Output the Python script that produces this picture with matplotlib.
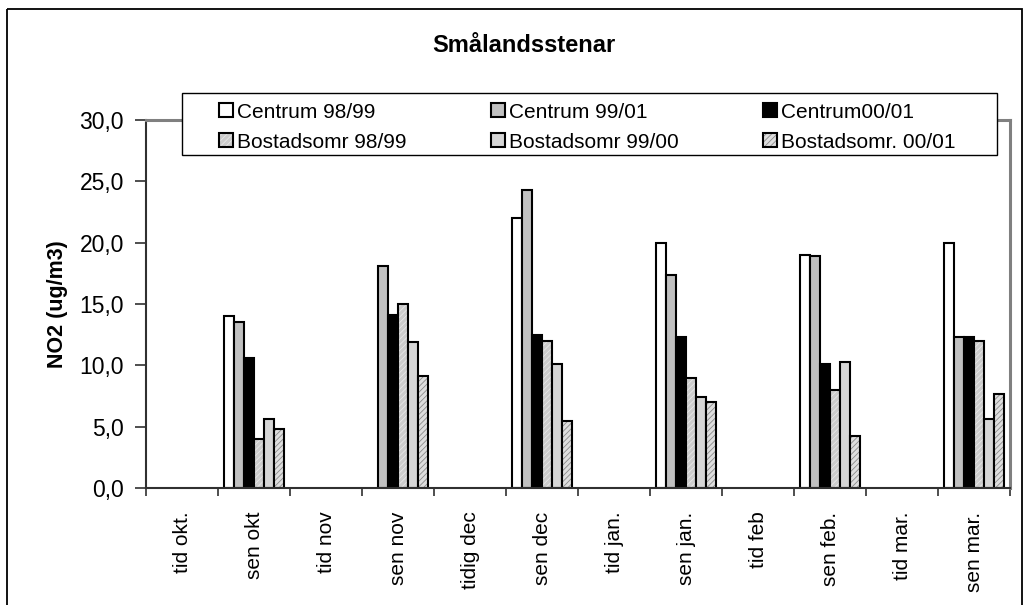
import numpy as np
import matplotlib as mpl
import matplotlib.pyplot as plt
from matplotlib.patches import Rectangle
from matplotlib.ticker import FuncFormatter, FixedLocator

mpl.rcParams.update({
    "font.family": ["Liberation Sans", "DejaVu Sans"],
    "hatch.linewidth": 0.6,
})

# -----------------------
# data
# -----------------------
categories = ["tid okt.", "sen okt", "tid nov", "sen nov", "tidig dec", "sen dec",
              "tid jan.", "sen jan.", "tid feb", "sen feb.", "tid mar.", "sen mar."]

nan = np.nan
centrum_9899 = [nan, 14.0, nan, nan, nan, 22.0, nan, 20.0, nan, 19.0, nan, 20.0]
centrum_9901 = [nan, 13.5, nan, 18.1, nan, 24.3, nan, 17.4, nan, 18.9, nan, 12.3]
centrum_0001 = [nan, 10.6, nan, 14.1, nan, 12.5, nan, 12.3, nan, 10.1, nan, 12.3]
bostad_9899 = [nan, 4.0, nan, 15.0, nan, 12.0, nan, 9.0, nan, 8.0, nan, 12.0]
bostad_9900 = [nan, 5.6, nan, 11.9, nan, 10.1, nan, 7.4, nan, 10.3, nan, 5.6]
bostad_0001 = [nan, 4.8, nan, 9.1, nan, 5.5, nan, 7.0, nan, 4.2, nan, 7.7]

series_names = ["Centrum 98/99", "Centrum 99/01", "Centrum00/01",
                "Bostadsomr 98/99", "Bostadsomr 99/00", "Bostadsomr. 00/01"]
series_values = [centrum_9899, centrum_9901, centrum_0001,
                 bostad_9899, bostad_9900, bostad_0001]

# fill, hatch, hatch colour
styles = [
    ("white", None, None),
    ("#c0c0c0", None, None),
    ("black", None, None),
    ("#cccccc", "//////", "#e8e8e8"),
    ("#d6d6d6", None, None),
    ("#dedede", "//////", "#8a8a8a"),
]

W, H = 1030, 605
fig = plt.figure(figsize=(W / 100, H / 100), dpi=100)
ax = fig.add_axes([146 / W, 1 - 488 / H, (1010 - 146) / W, (488 - 120) / H])


def draw_box(target, x, y, w, h, style, **kw):
    face, hatch, hcol = style
    if hatch:
        target.add_patch(Rectangle((x, y), w, h, facecolor=face, hatch=hatch,
                                   edgecolor=hcol, linewidth=0, **kw))
        target.add_patch(Rectangle((x, y), w, h, facecolor="none",
                                   edgecolor="black", linewidth=1.5, **kw))
    else:
        target.add_patch(Rectangle((x, y), w, h, facecolor=face,
                                   edgecolor="black", linewidth=1.5, **kw))


# -----------------------
# bars
# -----------------------
n = len(series_values)
bw = 0.137
x = np.arange(len(categories))
for i, (vals, st) in enumerate(zip(series_values, styles)):
    off = (i - (n - 1) / 2) * bw
    for xi, v in zip(x, vals):
        if np.isnan(v):
            continue
        draw_box(ax, xi + off - bw / 2, 0, bw, v, st)

ax.set_xlim(-0.5, len(categories) - 0.5)
ax.set_ylim(0, 30)

# y axis
ax.set_yticks(np.arange(0, 30.1, 5))
ax.yaxis.set_major_formatter(FuncFormatter(lambda v, p: f"{v:.1f}".replace(".", ",")))
ax.tick_params(axis="y", direction="out", length=8, width=1.2, labelsize=16.5, pad=8,
               color="#303030")
ax.set_ylabel("NO2 (ug/m3)", fontsize=15.5, fontweight="bold")
ax.yaxis.set_label_coords((68 - 146) / (1010 - 146), 0.5)

# x axis: tick marks between categories, labels at centres
ax.xaxis.set_major_locator(FixedLocator(np.arange(-0.5, len(categories), 1.0)))
ax.xaxis.set_minor_locator(FixedLocator(x))
ax.set_xticklabels([], minor=False)
ax.set_xticklabels(categories, minor=True, rotation=90, va="top", ha="center")
ax.tick_params(axis="x", which="major", direction="out", length=6, width=1.2,
               color="#303030")
ax.tick_params(axis="x", which="minor", length=0, labelsize=15, pad=17)

for side in ["left", "bottom"]:
    ax.spines[side].set_color("#303030")
    ax.spines[side].set_linewidth(1.5)
for side in ["top", "right"]:
    ax.spines[side].set_color("#808080")
    ax.spines[side].set_linewidth(2.2)

# -----------------------
# overlay in pixel coords: frame, title, legend
# -----------------------
ov = fig.add_axes([0, 0, 1, 1], zorder=5)
ov.set_xlim(0, W)
ov.set_ylim(H, 0)
ov.axis("off")
ov.patch.set_alpha(0)

ov.add_patch(Rectangle((7, 9), 1015, 620, facecolor="none", edgecolor="black",
                       linewidth=1.3, clip_on=False))
ov.text(524, 46, "Smålandsstenar", ha="center", va="center", fontsize=17,
        fontweight="bold")

ov.add_patch(Rectangle((182, 93), 815, 62, facecolor="white", edgecolor="black",
                       linewidth=1.0))
col_x = [219, 491, 763]
row_y = [110, 140]
for i, (name, st) in enumerate(zip(series_names, styles)):
    cx = col_x[i % 3]
    cy = row_y[i // 3]
    draw_box(ov, cx, cy - 7, 14, 14, st)
    ov.text(cx + 18, cy + 2, name, ha="left", va="center", fontsize=15)

fig.savefig("out.png", dpi=100)
